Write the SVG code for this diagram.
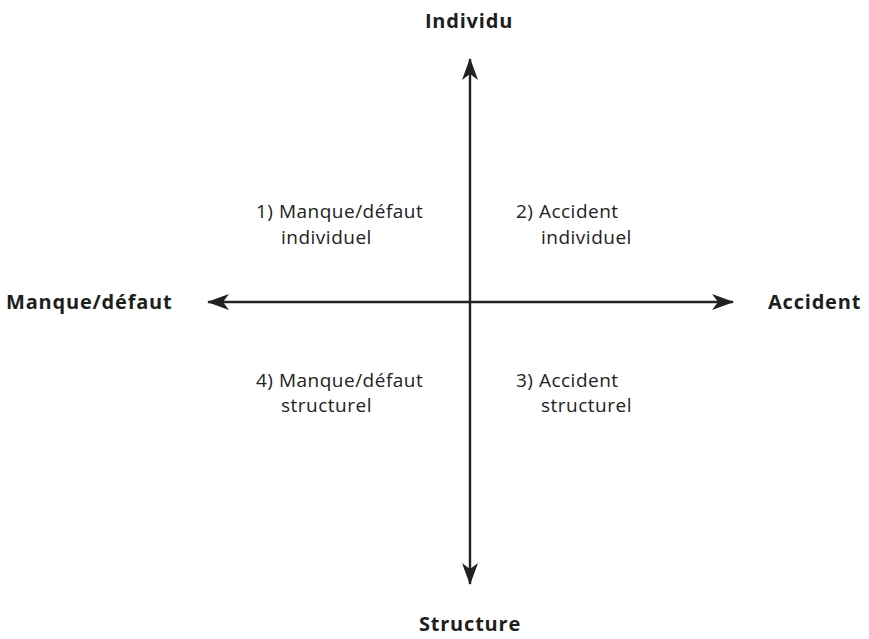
<svg xmlns="http://www.w3.org/2000/svg" width="869" height="639" viewBox="0 0 869 639">
<style>
.ax{font-family:"Open Sans","DejaVu Sans",sans-serif;font-weight:bold;font-size:20px;letter-spacing:0.8px;fill:#1e1e1e}
.q{font-family:"Open Sans","DejaVu Sans",sans-serif;font-size:19px;letter-spacing:0.5px;fill:#222}
.ln{stroke:#222;stroke-width:2.4;fill:none}
</style>
<defs>
<marker id="ah" viewBox="0 0 22 16" refX="21" refY="8" markerWidth="22" markerHeight="16" markerUnits="userSpaceOnUse" orient="auto-start-reverse">
<path d="M22,8 L0,0 L6,8 L0,16 Z" fill="#222"/>
</marker>
</defs>
<rect width="869" height="639" fill="#fff"/>
<g id="connectors">
<line class="ln" x1="470" y1="584" x2="470" y2="59" marker-start="url(#ah)" marker-end="url(#ah)"/>
<line class="ln" x1="208" y1="302" x2="733" y2="302" marker-start="url(#ah)" marker-end="url(#ah)"/>
</g>
<g id="individu"><text class="ax" x="469" y="28" text-anchor="middle">Individu</text></g>
<g id="structure"><text class="ax" x="470" y="631" text-anchor="middle">Structure</text></g>
<g id="manque"><text class="ax" x="6" y="309">Manque/défaut</text></g>
<g id="accident"><text class="ax" x="768" y="309">Accident</text></g>
<g id="q1"><text class="q" x="256" y="218">1) Manque/défaut</text><text class="q" x="281" y="244">individuel</text></g>
<g id="q2"><text class="q" x="516" y="218">2) Accident</text><text class="q" x="541" y="244">individuel</text></g>
<g id="q4"><text class="q" x="256" y="387">4) Manque/défaut</text><text class="q" x="281" y="412">structurel</text></g>
<g id="q3"><text class="q" x="516" y="387">3) Accident</text><text class="q" x="541" y="412">structurel</text></g>
</svg>
